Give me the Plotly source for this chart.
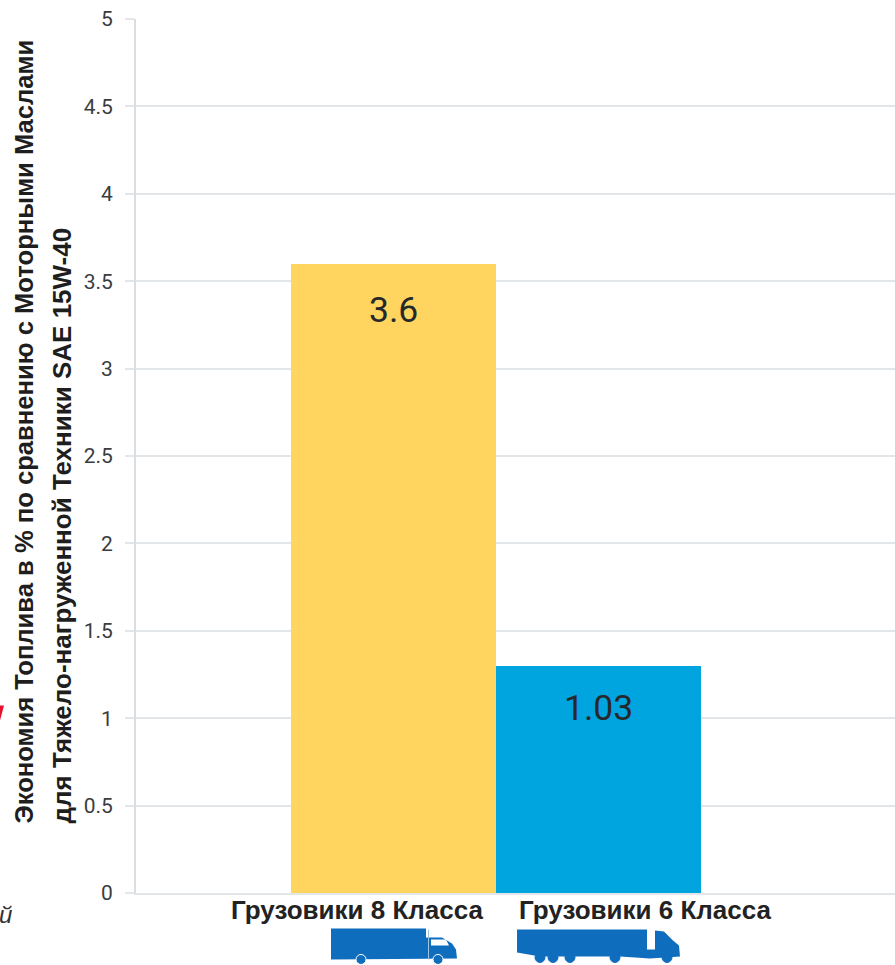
import plotly.graph_objects as go

W, H = 895, 965
L, R, T, B = 136, 895, 19, 893.5

categories = ["Грузовики 8 Класса", "Грузовики 6 Класса"]
bar_heights = [3.6, 1.3]
value_labels = ["3.6", "1.03"]
bar_colors = ["#FFD45F", "#00A4DE"]
y_ticks = [0, 0.5, 1, 1.5, 2, 2.5, 3, 3.5, 4, 4.5, 5]
y_tick_labels = ["0", "0.5", "1", "1.5", "2", "2.5", "3", "3.5", "4", "4.5", "5"]
y_title_lines = ["Экономия Топлива в % по сравнению с Моторными Маслами",
                 "для Тяжело-нагруженной Техники SAE 15W-40"]
GRID = "#E3E6E9"
TRUCK = "#0F6DBE"


def px(x):
    return (x - L) / (R - L)


def py(y):
    return (B - y) / (B - T)


def path(points):
    return "M" + " L".join(f"{px(x):.5f},{py(y):.5f}" for x, y in points) + " Z"


def shape(points, color):
    return dict(type="path", xref="paper", yref="paper", path=path(points),
                fillcolor=color, line=dict(width=0), layer="above")


def wheel(cx, cy, r, rim="white"):
    return dict(type="circle", xref="paper", yref="paper",
                x0=px(cx - r), x1=px(cx + r), y0=py(cy + r), y1=py(cy - r),
                fillcolor=TRUCK, line=dict(color=rim, width=1), layer="above")


shapes = [
    # first truck
    shape([(331, 929), (426, 929), (426, 938), (442, 938), (452, 944), (456, 950), (457, 959),
           (331, 960)], TRUCK),
    shape([(431, 940), (446, 940), (449, 946), (431, 946)], "#FFFFFF"),
    shape([(428, 930), (429, 930), (429, 960), (428, 960)], "#9CC4E4"),
    wheel(361, 960, 5),
    wheel(438, 960, 5),
    # second truck
    shape([(517, 930), (647, 930), (647, 950), (655, 950), (655, 931), (664, 932), (673, 941),
           (679, 946), (680, 957), (650, 959), (620, 957), (540, 957), (517, 953)], TRUCK),
    wheel(540, 958, 5, TRUCK),
    wheel(553, 958, 5, TRUCK),
    wheel(570, 958, 5, TRUCK),
    wheel(615, 958, 5, TRUCK),
    wheel(667, 958, 5, TRUCK),
    # cropped red mark on the left edge
    shape([(0, 706), (4, 706), (0, 721)], "#E8112D"),
]

annotations = []
for cat, shift in zip(categories, [-36, 47]):
    annotations.append(dict(x=cat, y=0, xref="x", yref="y", xshift=shift, yshift=-17,
                            text=f"<b>{cat}</b>", showarrow=False,
                            font=dict(family="Liberation Sans", size=26, color="#222222")))
for cat, height, label, shift in zip(categories, bar_heights, value_labels, [-46, -42]):
    annotations.append(dict(x=cat, y=height, xref="x", yref="y", yshift=shift,
                            text=label, showarrow=False,
                            font=dict(family="Roboto", size=35.5, color="#26292B")))
for line, xp, size in zip(y_title_lines, [24, 62], [25.6, 26]):
    annotations.append(dict(x=px(xp), y=py(826), xref="paper", yref="paper",
                            xanchor="center", yanchor="bottom", textangle=-90,
                            text=f"<b>{line}</b>", showarrow=False,
                            font=dict(family="Liberation Sans", size=size, color="#1E1E1E")))
annotations.append(dict(x=px(5), y=py(915), xref="paper", yref="paper",
                        xanchor="center", yanchor="middle",
                        text="<i>й</i>", showarrow=False,
                        font=dict(family="Liberation Sans", size=24, color="#333333")))

fig = go.Figure(go.Bar(x=categories, y=bar_heights, marker=dict(color=bar_colors, line=dict(width=0)),
                       hoverinfo="skip"))

fig.update_layout(
    width=W, height=H, autosize=False,
    margin=dict(l=L, r=W - R, t=T, b=H - B, pad=0),
    paper_bgcolor="white", plot_bgcolor="white",
    bargap=0, showlegend=False,
    shapes=shapes, annotations=annotations,
    xaxis=dict(range=[-1.256, 2.446], showticklabels=False, ticks="", showgrid=False,
               showline=True, linecolor=GRID, linewidth=2, zeroline=False),
    yaxis=dict(range=[0, 5], tickvals=y_ticks, ticktext=y_tick_labels, ticks="outside",
               ticklen=9, tickcolor=GRID, tickwidth=1.5, gridcolor=GRID, gridwidth=1.5,
               showline=True, linecolor="#D9DEE2", linewidth=2, zeroline=False,
               ticklabelstandoff=8,
               tickfont=dict(family="Roboto", size=21, color="#3A3D3F")),
)

fig.write_html("out.html", config=dict(displayModeBar=False),
               post_script="document.body.style.margin='0';")
